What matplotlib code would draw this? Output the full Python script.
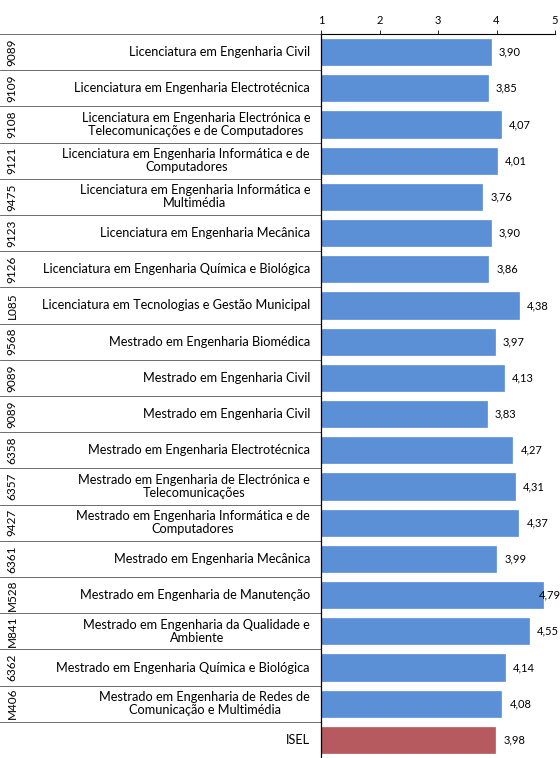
import matplotlib

matplotlib.use("Agg")
import matplotlib.pyplot as plt  # noqa: E402

codes = ["9089", "9109", "9108", "9121", "9475", "9123", "9126", "L085", "9568", "9089",
         "9089", "6358", "6357", "9427", "6361", "M528", "M841", "6362", "M406", ""]
names = [
    "Licenciatura em Engenharia Civil",
    "Licenciatura em Engenharia Electrotécnica",
    "Licenciatura em Engenharia Electrónica e\nTelecomunicações e de Computadores",
    "Licenciatura em Engenharia Informática e de\nComputadores",
    "Licenciatura em Engenharia Informática e\nMultimédia",
    "Licenciatura em Engenharia Mecânica",
    "Licenciatura em Engenharia Química e Biológica",
    "Licenciatura em Tecnologias e Gestão Municipal",
    "Mestrado em Engenharia Biomédica",
    "Mestrado em Engenharia Civil",
    "Mestrado em Engenharia Civil",
    "Mestrado em Engenharia Electrotécnica",
    "Mestrado em Engenharia de Electrónica e\nTelecomunicações",
    "Mestrado em Engenharia Informática e de\nComputadores",
    "Mestrado em Engenharia Mecânica",
    "Mestrado em Engenharia de Manutenção",
    "Mestrado em Engenharia da Qualidade e\nAmbiente",
    "Mestrado em Engenharia Química e Biológica",
    "Mestrado em Engenharia de Redes de\nComunicação e Multimédia",
    "ISEL",
]
values = [3.90, 3.85, 4.07, 4.01, 3.76, 3.90, 3.86, 4.38, 3.97, 4.13,
          3.83, 4.27, 4.31, 4.37, 3.99, 4.79, 4.55, 4.14, 4.08, 3.98]
ticks = [1, 2, 3, 4, 5]

plt.rcParams["font.family"] = ["Lato", "DejaVu Sans"]

W, H = 560, 758
fig = plt.figure(figsize=(W / 100, H / 100), dpi=100)
left_px, right_px, top_px, bot_px = 321, 555, 34, 758
ax = fig.add_axes([left_px / W, 1 - bot_px / H, (right_px - left_px) / W, (bot_px - top_px) / H])

n = len(values)
ypos = list(range(n))
colors = ["#5b8fd6"] * (n - 1) + ["#b65a60"]
ax.barh(ypos, values, height=0.72, color=colors, edgecolor=colors, linewidth=0.5)

ax.set_xlim(1, 5)
ax.set_ylim(n - 0.5, -0.5)
ax.set_xticks(ticks)
ax.set_xticklabels([str(t) for t in ticks])
ax.xaxis.tick_top()
ax.tick_params(axis="x", labelsize=8, length=3, width=0.6, pad=3)
ax.set_yticks([])
for s in ["right", "bottom"]:
    ax.spines[s].set_visible(False)
ax.spines["top"].set_linewidth(0.8)
ax.spines["left"].set_linewidth(0.9)

tr = ax.get_yaxis_transform()
px = 1.0 / (right_px - left_px)  # one pixel in axes units
for i, (c, name, v) in enumerate(zip(codes, names, values)):
    ax.text(-11 * px, i, name, transform=tr, ha="right", va="center", multialignment="center",
            fontsize=9.2, linespacing=1.1, clip_on=False)
    if c:
        ax.text((12 - left_px) * px, i, c, transform=tr, ha="center", va="center",
                rotation=90, fontsize=8.5, clip_on=False)
    lx = min(v + 0.14, 4.72)
    ax.text(lx, i, f"{v:.2f}".replace(".", ","), ha="left", va="center", fontsize=8)
    if i < n - 1:
        ax.plot([-left_px * px, 0], [i + 0.5, i + 0.5], transform=tr, color="#555555",
                lw=0.6, clip_on=False)

ax.plot([-left_px * px, 0], [-0.5, -0.5], transform=tr, color="#555555", lw=0.6, clip_on=False)

fig.savefig("out.png", dpi=100)
